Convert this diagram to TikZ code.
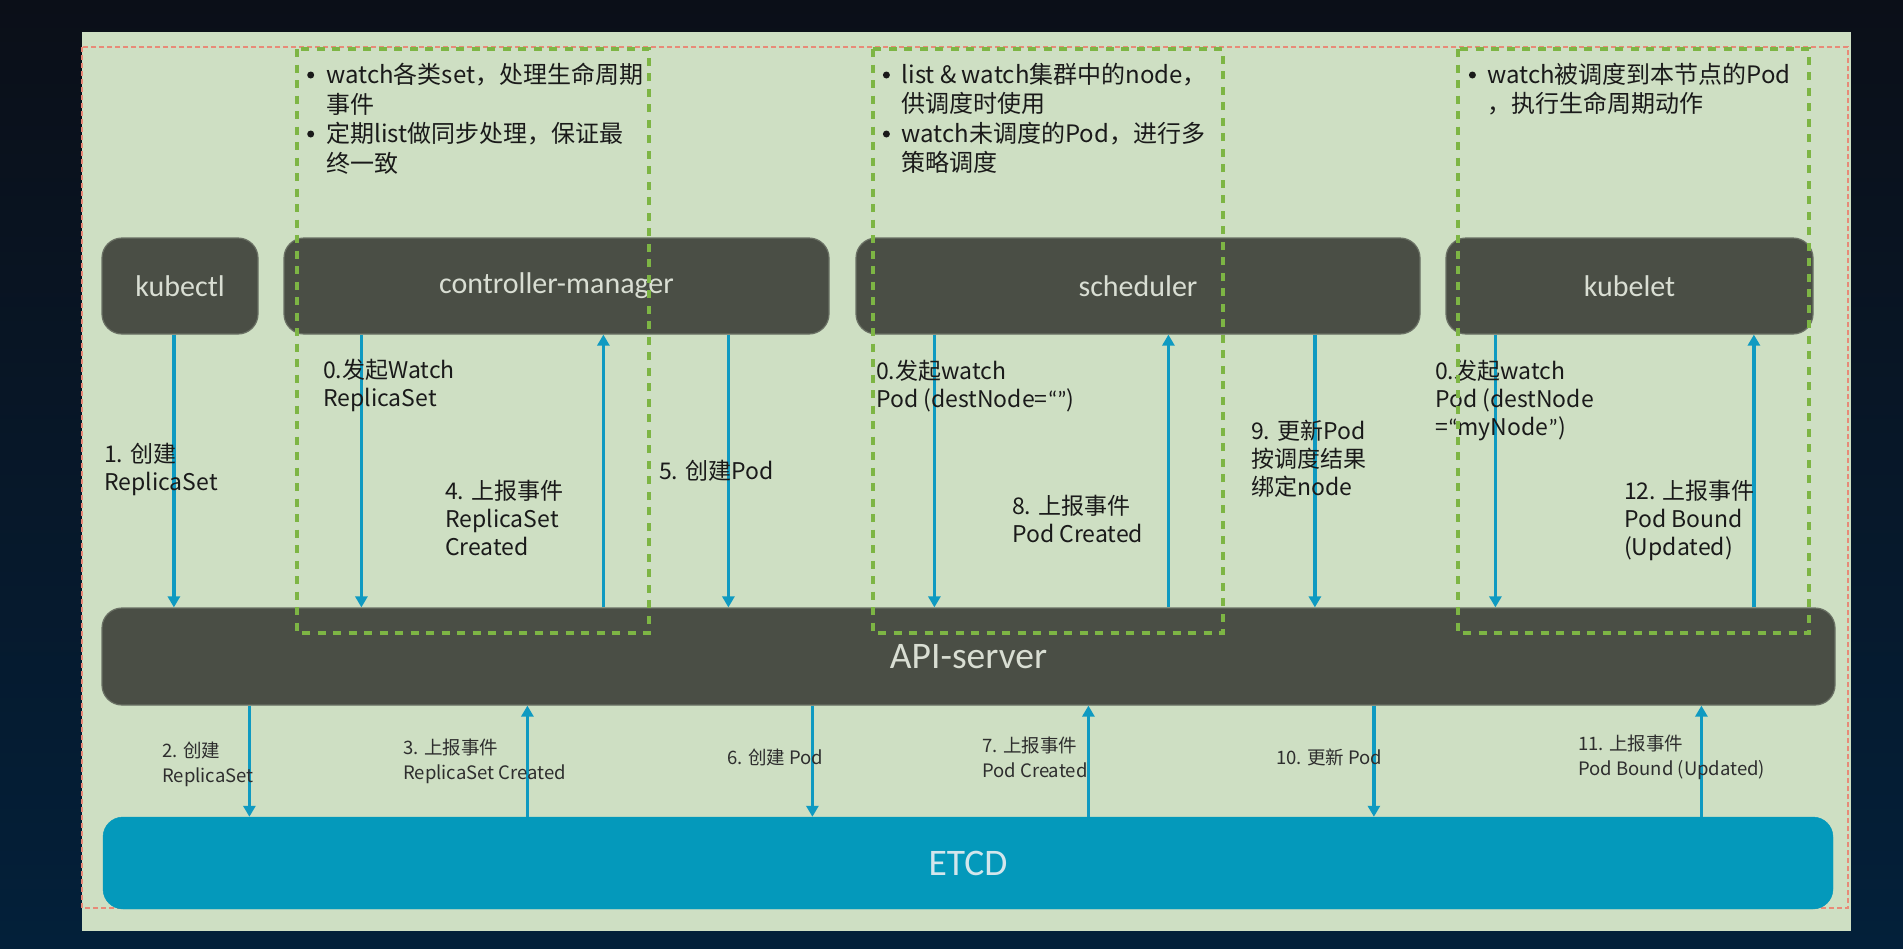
\documentclass[tikz,border=0pt]{standalone}
\usepackage{fontspec}
\setmainfont{Noto Sans CJK SC}
\newfontfamily\boxfont{Carlito}
\usetikzlibrary{arrows.meta,calc}
\definecolor{bgtop}{HTML}{0B0F18}
\definecolor{bgbot}{HTML}{03203A}
\definecolor{panel}{HTML}{CEDFC3}
\definecolor{boxgray}{HTML}{4A4E45}
\definecolor{boxedge}{HTML}{6A7064}
\definecolor{boxtext}{HTML}{D9DED3}
\definecolor{etcdc}{HTML}{0499BB}
\definecolor{etcdtext}{HTML}{D3E6EC}
\definecolor{arrowc}{HTML}{0F9AC1}
\definecolor{greenc}{HTML}{7DB544}
\definecolor{redc}{HTML}{E88A78}
\definecolor{labc}{HTML}{1A1A1A}
\definecolor{labc2}{HTML}{2E2E2E}
\begin{document}
\begin{tikzpicture}[x=1pt,y=-1pt,
  graybox/.style={draw=boxedge, fill=boxgray, rounded corners=20pt, line width=1.2pt,
    inner sep=0, text=boxtext, font=\boxfont\fontsize{30}{36}\selectfont},
  bigbox/.style={graybox, font=\boxfont\fontsize{37.5}{44}\selectfont},
  etcdbox/.style={draw=etcdc, fill=etcdc, rounded corners=20pt, inner sep=0,
    text=etcdtext, font=\boxfont\fontsize{37.5}{44}\selectfont},
  arr/.style={draw=arrowc, line width=3.3pt, -{Triangle[length=11pt,width=12pt]}},
  lab/.style={anchor=north west, inner sep=0, align=left, text=labc,
    font=\fontsize{23}{28}\selectfont},
  slab/.style={anchor=north west, inner sep=0, align=left, text=labc2,
    font=\fontsize{18.5}{25}\selectfont},
  bul/.style={anchor=north west, inner sep=0, align=left, text=labc,
    font=\fontsize{24}{29.5}\selectfont},
  gdash/.style={draw=greenc, line width=4pt, dash pattern=on 8pt off 7.5pt},
  rdash/.style={draw=redc, line width=1.3pt, dash pattern=on 5pt off 3pt}]

\useasboundingbox (0,0) rectangle (1903,948);
\shade[top color=bgtop, bottom color=bgbot] (0,0) rectangle (1903,948);
\fill[panel] (82,32) rectangle (1851,931);
\draw[rdash] (82,47) rectangle (1848,908);

% component boxes
\node[graybox, minimum width=156pt, minimum height=96pt] (kubectl) at (180,286) {kubectl};
\node[graybox, minimum width=545pt, minimum height=96pt] (cm) at (556.5,286) {controller-manager};
\node[graybox, minimum width=564pt, minimum height=96pt] (sched) at (1138,286) {scheduler};
\node[graybox, minimum width=367pt, minimum height=96pt] (kubelet) at (1629.5,286) {kubelet};
\node[bigbox, minimum width=1733pt, minimum height=97pt] (api) at (968.5,656.5) {API-server};
\node[etcdbox, minimum width=1730pt, minimum height=92pt] (etcd) at (968,863) {ETCD};

% upper arrows (down to API-server)
\draw[arr] ($(kubectl.south west)+(72.5,0)$) coordinate (d1) -- (d1 |- api.north);
\draw[arr] ($(cm.south west)+(78,0)$) coordinate (d2) -- (d2 |- api.north);
\draw[arr] ($(cm.south west)+(445,0)$) coordinate (d3) -- (d3 |- api.north);
\draw[arr] ($(sched.south west)+(79,0)$) coordinate (d4) -- (d4 |- api.north);
\draw[arr] ($(sched.south west)+(459.5,0)$) coordinate (d5) -- (d5 |- api.north);
\draw[arr] ($(kubelet.south west)+(50,0)$) coordinate (d6) -- (d6 |- api.north);
% upper arrows (up to components)
\path ($(cm.south west)+(320,0)$) coordinate (u1);
\draw[arr] (u1 |- api.north) -- (u1);
\path ($(sched.south west)+(313,0)$) coordinate (u2);
\draw[arr] (u2 |- api.north) -- (u2);
\path ($(kubelet.south west)+(308.5,0)$) coordinate (u3);
\draw[arr] (u3 |- api.north) -- (u3);

% lower arrows
\draw[arr] ($(api.south west)+(148,0)$) coordinate (e1) -- (e1 |- etcd.north);
\draw[arr] ($(api.south west)+(711,0)$) coordinate (e2) -- (e2 |- etcd.north);
\draw[arr] ($(api.south west)+(1272.5,0)$) coordinate (e3) -- (e3 |- etcd.north);
\path ($(api.south west)+(426,0)$) coordinate (f1);
\draw[arr] (f1 |- etcd.north) -- (f1 |- api.south);
\path ($(api.south west)+(987,0)$) coordinate (f2);
\draw[arr] (f2 |- etcd.north) -- (f2 |- api.south);
\path ($(api.south west)+(1600,0)$) coordinate (f3);
\draw[arr] (f3 |- etcd.north) -- (f3 |- api.south);

% upper labels
\node[lab] (l1) at (104,443) {1. 创建\\ReplicaSet};
\node[lab] (l0a) at (323,359) {0.发起Watch\\ReplicaSet};
\node[lab] (l4) at (445,480) {4. 上报事件\\ReplicaSet\\Created};
\node[lab] (l5) at (659,460) {5. 创建Pod};
\node[lab] (l0b) at (876,360) {0.发起watch\\Pod (destNode={\boxfont “”})};
\node[lab] (l8) at (1012,495) {8. 上报事件\\Pod Created};
\node[lab] (l9) at (1251,420) {9. 更新Pod\\按调度结果\\绑定node};
\node[lab] (l0c) at (1435,360) {0.发起watch\\Pod (destNode\\={\boxfont “}myNode{\boxfont ”})};
\node[lab] (l12) at (1624,480) {12. 上报事件\\Pod Bound\\(Updated)};

% lower labels
\node[slab] (l2) at (162,742) {2. 创建\\ReplicaSet};
\node[slab] (l3) at (403,739) {3. 上报事件\\ReplicaSet Created};
\node[slab] (l6) at (727,749) {6. 创建 Pod};
\node[slab] (l7) at (982,737) {7. 上报事件\\Pod Created};
\node[slab] (l10) at (1276,749) {10. 更新 Pod};
\node[slab] (l11) at (1578,735) {11. 上报事件\\Pod Bound (Updated)};

% green dashed groups
\draw[gdash] (297,49) rectangle (649,633);
\draw[gdash] (873,49) rectangle (1223,633);
\draw[gdash] (1458,49) rectangle (1809,633);

% bullet notes
\node[bul] (b1) at (326,63) {watch各类set，处理生命周期\\事件\\定期list做同步处理，保证最\\终一致};
\fill[labc] (310.7,75) circle (3.5);
\fill[labc] (310.7,134) circle (3.5);
\node[bul] (b2) at (901.5,63) {list \& watch集群中的node，\\供调度时使用\\watch未调度的Pod，进行多\\策略调度};
\fill[labc] (886.4,75) circle (3.5);
\fill[labc] (886.4,134) circle (3.5);
\node[bul] (b3) at (1487,63) {watch被调度到本节点的Pod\\，执行生命周期动作};
\fill[labc] (1472.4,75) circle (3.5);
\end{tikzpicture}
\end{document}
